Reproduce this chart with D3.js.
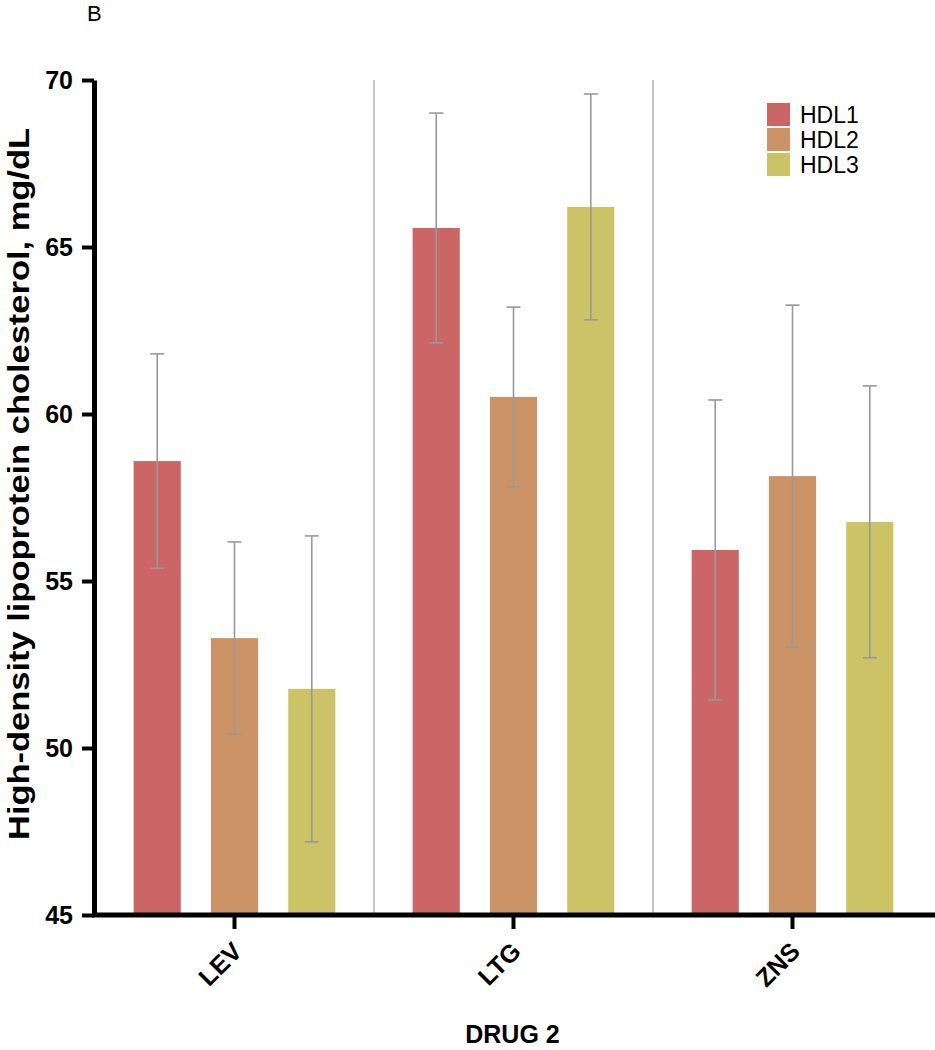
<!DOCTYPE html>
<html>
<head>
<meta charset="utf-8">
<script src="https://cdn.jsdelivr.net/npm/d3@7"></script>
<style>
  html, body { margin: 0; padding: 0; background: #fff; }
  svg { display: block; font-family: "Liberation Sans", Arial, sans-serif; }
</style>
</head>
<body>
<svg id="chart" width="935" height="1050"></svg>
<script>
const drugs = ["LEV", "LTG", "ZNS"];
const series = ["HDL1", "HDL2", "HDL3"];
const hdl1 = [58.59, 65.57, 55.93];
const hdl2 = [53.29, 60.51, 58.14];
const hdl3 = [51.77, 66.20, 56.77];
const err1 = [3.21, 3.44, 4.49];
const err2 = [2.88, 2.69, 5.12];
const err3 = [4.58, 3.38, 4.07];
const yTicks = [45, 50, 55, 60, 65, 70];
const colors = ["#cc6666", "#cc9466", "#cbc366"];

const values = [hdl1, hdl2, hdl3];
const errors = [err1, err2, err3];

const svg = d3.select("#chart");

const y = d3.scaleLinear().domain([45, 70]).range([915, 80]);
const x0 = d3.scaleBand().domain(drugs).range([95, 932]).padding(0);
const x1 = d3.scaleBand().domain(series).range([0, x0.bandwidth()])
  .paddingInner(0.39).paddingOuter(0.5);
const color = d3.scaleOrdinal().domain(series).range(colors);

// group separators
svg.append("g").selectAll("line")
  .data(drugs.slice(0, -1))
  .join("line")
  .attr("x1", d => x0(d) + x0.bandwidth())
  .attr("x2", d => x0(d) + x0.bandwidth())
  .attr("y1", y(70)).attr("y2", y(45) - 2)
  .attr("stroke", "#a0a0a0").attr("stroke-width", 1.2);

// data table
const rows = [];
drugs.forEach((d, i) => series.forEach((s, j) => {
  rows.push({ drug: d, series: s, value: values[j][i], err: errors[j][i] });
}));

const g = svg.append("g");
g.selectAll("rect")
  .data(rows)
  .join("rect")
  .attr("x", d => x0(d.drug) + x1(d.series))
  .attr("y", d => y(d.value))
  .attr("width", x1.bandwidth())
  .attr("height", d => y(45) - y(d.value))
  .attr("fill", d => color(d.series));

// error bars
const eb = svg.append("g").attr("stroke", "#999").attr("stroke-width", 1.6).attr("fill", "none");
const cx = d => x0(d.drug) + x1(d.series) + x1.bandwidth() / 2;
eb.selectAll("line.v").data(rows).join("line").attr("class", "v")
  .attr("x1", cx).attr("x2", cx)
  .attr("y1", d => y(d.value + d.err)).attr("y2", d => y(d.value - d.err));
eb.selectAll("line.t").data(rows).join("line").attr("class", "t")
  .attr("x1", d => cx(d) - 7).attr("x2", d => cx(d) + 7)
  .attr("y1", d => y(d.value + d.err)).attr("y2", d => y(d.value + d.err));
eb.selectAll("line.b").data(rows).join("line").attr("class", "b")
  .attr("x1", d => cx(d) - 7).attr("x2", d => cx(d) + 7)
  .attr("y1", d => y(d.value - d.err)).attr("y2", d => y(d.value - d.err));

// y axis
const yAxis = svg.append("g")
  .attr("transform", "translate(94,0)")
  .call(d3.axisLeft(y).tickValues(yTicks).tickSize(12).tickSizeOuter(0).tickPadding(9));
yAxis.select(".domain").attr("stroke", "#000").attr("stroke-width", 5);
yAxis.selectAll(".tick line").attr("stroke", "#000").attr("stroke-width", 4);
yAxis.selectAll(".tick text")
  .style("font-size", "25px").style("font-weight", "bold").attr("fill", "#000")
  .style("font-family", "Liberation Sans, Arial, sans-serif");

// x axis
const xAxis = svg.append("g").attr("transform", "translate(0,915)")
  .call(d3.axisBottom(x0).tickSize(14).tickSizeOuter(0).tickPadding(0));
xAxis.select(".domain").remove();
xAxis.append("line").attr("x1", 92).attr("x2", 935).attr("y1", 0).attr("y2", 0)
  .attr("stroke", "#000").attr("stroke-width", 5);
xAxis.selectAll(".tick line").attr("stroke", "#000").attr("stroke-width", 4);
xAxis.selectAll(".tick text")
  .style("font-size", "25px").style("font-weight", "bold").attr("fill", "#000")
  .style("font-family", "Liberation Sans, Arial, sans-serif")
  .attr("text-anchor", "end")
  .attr("dy", null)
  .attr("y", 0)
  .attr("transform", "translate(9,38) rotate(-45)");

// axis titles
svg.append("text")
  .attr("x", x0.range()[0] + (x0.range()[1] - x0.range()[0]) / 2 - 1)
  .attr("y", 1043)
  .attr("text-anchor", "middle")
  .style("font-size", "25px").style("font-weight", "bold")
  .text("DRUG 2");

svg.append("text")
  .attr("transform", "translate(29,484) rotate(-90)")
  .attr("text-anchor", "middle")
  .style("font-size", "29px").style("font-weight", "bold")
  .attr("textLength", 712).attr("lengthAdjust", "spacingAndGlyphs")
  .text("High-density lipoprotein cholesterol, mg/dL");

// panel label
svg.append("text").attr("x", 87).attr("y", 21)
  .style("font-size", "22px").text("B");

// legend
const leg = svg.append("g").attr("transform", "translate(767,103)");
const li = leg.selectAll("g").data(series).join("g")
  .attr("transform", (d, i) => `translate(0,${i * 25})`);
li.append("rect").attr("width", 23).attr("height", 23).attr("fill", d => color(d));
li.append("text").attr("x", 33).attr("y", 19.5).style("font-size", "23px").text(d => d);
</script>
</body>
</html>
